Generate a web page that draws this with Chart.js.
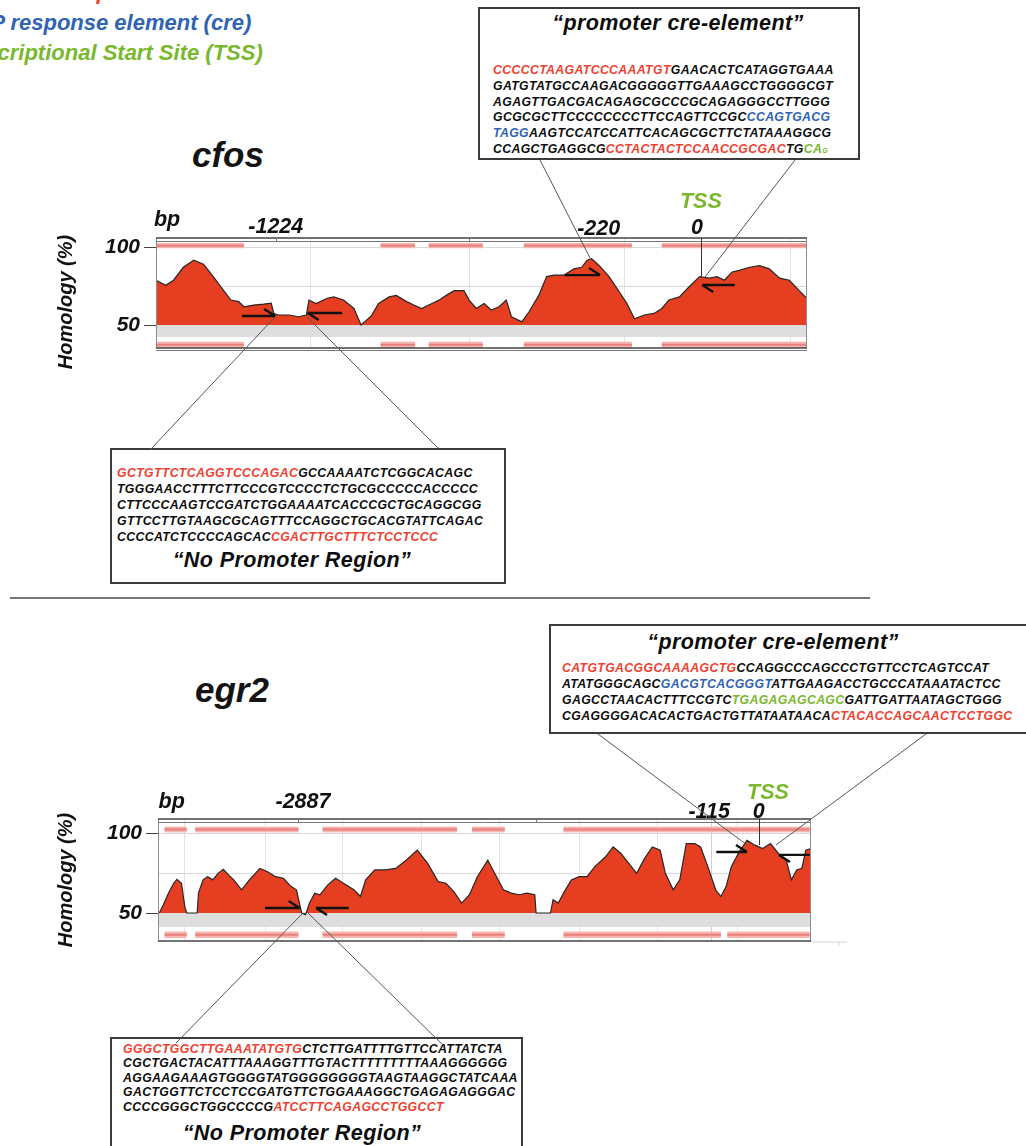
<!DOCTYPE html>
<html>
<head>
<meta charset="utf-8">
<script src="https://cdn.jsdelivr.net/npm/chart.js@4.4.1/dist/chart.umd.min.js"></script>
<style>
  body { margin: 0; background: #fff; }
  #page { position: relative; width: 1026px; height: 1146px; overflow: hidden;
          font-family: "Liberation Sans", Arial, sans-serif; font-weight: bold; font-style: italic; color: #141414; }
  .abs { position: absolute; white-space: nowrap; }
  .legend { font-size: 22px; line-height: 26px; }
  .gene { font-size: 35px; line-height: 40px; }
  .box { position: absolute; box-sizing: border-box; border: 2.5px solid #3b3b3b; background: #fff; }
  .seq { position: absolute; white-space: nowrap; font-size: 12.3px; letter-spacing: 0.35px; color: #0d0d0d; }
  .cap { position: absolute; width: 400px; font-size: 21.5px; line-height: 26px; letter-spacing: 0.4px;
         text-align: center; white-space: nowrap; color: #0d0d0d; }
  .r { color: #ee4130; } .b { color: #2f63b4; } .g { color: #79b72d; }
  .g small { font-size: 7px; }
  canvas { position: absolute; }
  svg { position: absolute; left: 0; top: 0; pointer-events: none; }
</style>
</head>
<body>
<div id="page">

  <!-- legend (cut by the page edge) -->
  <div class="abs legend r" style="left:-11px; top:-21px">Primer sequences</div>
  <div class="abs legend b" style="left:-56px; top:10px">cAMP response element (cre)</div>
  <div class="abs legend g" style="left:-62px; top:40px">Transcriptional Start Site (TSS)</div>

  <div class="abs gene" style="left:192px; top:135px">cfos</div>
  <div class="abs gene" style="left:195px; top:670px">egr2</div>

  <!-- cfos promoter box -->
  <div class="box" style="left:478px; top:7px; width:382px; height:153px"></div>
  <div class="cap" style="left:478px; top:10px">“promoter cre-element”</div>
  <div class="seq" style="left:493px; top:63px; line-height:15.8px">
<span class="r">CCCCCTAAGATCCCAAATGT</span>GAACACTCATAGGTGAAA<br>GATGTATGCCAAGACGGGGGTTGAAAGCCTGGGGCGT<br>AGAGTTGACGACAGAGCGCCCGCAGAGGGCCTTGGG<br>GCGCGCTTCCCCCCCCTTCCAGTTCCGC<span class="b">CCAGTGACG</span><br><span class="b">TAGG</span>AAGTCCATCCATTCACAGCGCTTCTATAAAGGCG<br>CCAGCTGAGGCG<span class="r">CCTACTACTCCAACCGCGAC</span>TG<span class="g">CA<small>G</small></span>
  </div>

  <!-- cfos no promoter box -->
  <div class="box" style="left:110px; top:448px; width:396px; height:136px"></div>
  <div class="seq" style="left:117px; top:465px; line-height:16px">
<span class="r">GCTGTTCTCAGGTCCCAGAC</span>GCCAAAATCTCGGCACAGC<br>TGGGAACCTTTCTTCCCGTCCCCTCTGCGCCCCCACCCCC<br>CTTCCCAAGTCCGATCTGGAAAATCACCCGCTGCAGGCGG<br>GTTCCTTGTAAGCGCAGTTTCCAGGCTGCACGTATTCAGAC<br>CCCCATCTCCCCAGCAC<span class="r">CGACTTGCTTTCTCCTCCC</span>
  </div>
  <div class="cap" style="left:92px; top:547px">“No Promoter Region”</div>

  <div class="abs" style="left:10px; top:597px; width:860px; height:2px; background:#777"></div>

  <!-- egr2 promoter box -->
  <div class="box" style="left:549px; top:624px; width:490px; height:110px"></div>
  <div class="cap" style="left:573px; top:629px">“promoter cre-element”</div>
  <div class="seq" style="left:562px; top:660px; line-height:16px">
<span class="r">CATGTGACGGCAAAAGCTG</span>CCAGGCCCAGCCCTGTTCCTCAGTCCAT<br>ATATGGGCAGC<span class="b">GACGTCACGGGT</span>ATTGAAGACCTGCCCATAAATACTCC<br>GAGCCTAACACTTTCCGTC<span class="g">TGAGAGAGCAGC</span>GATTGATTAATAGCTGGG<br>CGAGGGGACACACTGACTGTTATAATAACA<span class="r">CTACACCAGCAACTCCTGGC</span>
  </div>

  <!-- egr2 no promoter box -->
  <div class="box" style="left:110px; top:1037px; width:413px; height:112px"></div>
  <div class="seq" style="left:123px; top:1042px; line-height:14.4px">
<span class="r">GGGCTGGCTTGAAATATGTG</span>CTCTTGATTTTGTTCCATTATCTA<br>CGCTGACTACATTTAAAGGTTTGTACTTTTTTTTTAAAGGGGGG<br>AGGAAGAAAGTGGGGTATGGGGGGGGTAAGTAAGGCTATCAAA<br>GACTGGTTCTCCTCCGATGTTCTGGAAAGGCTGAGAGAGGGAC<br>CCCCGGGCTGGCCCCG<span class="r">ATCCTTCAGAGCCTGGCCT</span>
  </div>
  <div class="cap" style="left:102px; top:1120px">“No Promoter Region”</div>

  <canvas id="cfosChart" width="800" height="190" style="left:40px; top:180px"></canvas>
  <canvas id="egr2Chart" width="820" height="190" style="left:40px; top:770px"></canvas>

  <svg width="1026" height="1146">
    <g stroke="#555" stroke-width="1">
      <line x1="540" y1="160" x2="590" y2="258"/>
      <line x1="795" y1="160" x2="705" y2="277"/>
      <line x1="150" y1="450" x2="275" y2="317"/>
      <line x1="438" y1="448" x2="307" y2="317"/>
      <line x1="598" y1="734" x2="747" y2="845"/>
      <line x1="926" y1="734" x2="776" y2="845"/>
      <line x1="176" y1="1043" x2="303" y2="913"/>
      <line x1="443" y1="1045" x2="308" y2="913"/>
    </g>
  </svg>
</div>

<script>
/* ── Data: relative window position (0–100) and homology (%) ── */
const cfosPos = [0, 1.5, 2.7, 4.2, 5.8, 7.3, 8.8, 10.4, 11.5, 12.7,
  13.5, 15, 16.5, 17.7, 18.1, 18.8, 20.4, 21.9, 23.1, 23.5,
  24.6, 26.2, 27.3, 28.8, 30.4, 31.5, 32.3, 33.1, 34.2, 35.8,
  36.9, 38.5, 39.6, 40.8, 41.9, 43.5, 44.6, 45.8, 47.3, 48.1,
  49.2, 50.4, 51.5, 52.7, 53.8, 54.6, 56.2, 57.3, 58.8, 60,
  61.2, 62.7, 64.2, 65.4, 66.2, 66.9, 68.1, 69.6, 71.2, 72.3,
  73.5, 75, 76.5, 77.7, 78.8, 80.4, 81.9, 83.5, 85, 86.2,
  87.3, 88.5, 89.6, 91.2, 92.7, 94.2, 95.8, 97.3, 98.8, 100];
const cfosHomology = [78.7, 75.5, 78.7, 87, 91.5, 89, 81, 72, 66, 65,
  61.7, 62.8, 63.4, 64, 57.4, 56.4, 56.4, 55.3, 56.4, 66,
  63.8, 67, 68, 66, 60.6, 50, 53, 56, 63.8, 68,
  69, 65, 62.8, 60.6, 62.8, 66, 69, 72, 72, 66,
  60.6, 63.8, 59.6, 61.7, 66, 55.3, 52, 58.5, 69, 81,
  82, 82, 86, 87, 91.5, 92.5, 88, 81, 71, 64,
  54, 56.4, 57.4, 60.6, 66, 68, 74.5, 81, 80, 81,
  78.7, 84, 85, 87, 88, 86, 80, 78.7, 72, 67];

const egr2Pos = [0.2, 0.8, 1.6, 2.4, 2.9, 3.6, 4.1, 4.4, 6, 6.2,
  6.9, 7.6, 8.4, 9.2, 10, 10.8, 11.6, 12.8, 14, 15.6,
  16.8, 18, 19.2, 20.4, 21.2, 22, 22.6, 23.2, 24, 24.8,
  26, 27.2, 28.4, 30, 31, 31.8, 33.2, 34.8, 36.4, 38,
  39.7, 41.3, 42.9, 44.1, 45.3, 46.5, 47.7, 48.9, 50.5, 51.7,
  52.9, 54.1, 55.3, 56.5, 57.7, 57.9, 60.1, 60.5, 61.3, 62.1,
  63.3, 64.5, 65.7, 66.9, 68.5, 69.7, 70.9, 72.1, 73.3, 74.5,
  75.7, 76.9, 77.7, 78.9, 79.9, 80.9, 82.2, 83.1, 84.2, 85.4,
  86.2, 87, 87.8, 89, 90.2, 91.4, 92.6, 93.8, 95, 96.2,
  97, 97.8, 98.6, 99.2, 100];
const egr2Homology = [50, 55, 62.4, 68.6, 71, 68.6, 54, 50, 50, 62.4,
  70.7, 72.7, 70.7, 74.8, 77.3, 73.8, 70.7, 64.5, 70.7, 77.9,
  75.8, 72.7, 71.7, 66.5, 64.5, 50, 49, 56.2, 62.4, 61.4,
  67.6, 71.7, 68.6, 64.5, 60.3, 70.7, 76.9, 76.9, 77.9, 83,
  89.3, 81, 69.6, 68.6, 63.4, 56.2, 61.4, 72.7, 83, 73.8,
  64.5, 62.4, 61.4, 62.4, 61.4, 50, 50, 58.3, 56.2, 62.4,
  70.7, 72.7, 72.7, 79, 85, 91.3, 87.2, 81, 74.8, 84,
  91.3, 89.3, 74.8, 64.5, 70.7, 93.4, 93.4, 91.3, 79, 64.5,
  60.3, 66.5, 79, 88.2, 95.5, 92.4, 90.3, 93.4, 87.2, 83,
  70.7, 76.9, 77.9, 89.3, 90.3];

/* conserved-region bars (start, end in window position) */
const cfosConserved = [[0, 13.5], [34.5, 39.8], [41.9, 50.2], [56.5, 73.1], [77.7, 100]];
const egr2ConservedTop = [[1, 4.4], [5.7, 21.5], [25.2, 45.8], [48.1, 53.1], [62.1, 99.8]];
const egr2ConservedBottom = [[1, 4.4], [5.7, 21.5], [25.2, 45.8], [48.1, 53.1], [62.1, 86.2], [87.2, 99.8]];

/* position labels above each plot */
const cfosMarkText = ['bp', '-1224', '-220', '0'];
const cfosMarkPos  = [1.7, 18.4, 68, 83.1];
const egr2MarkText = ['bp', '-2887', '-115', '0'];
const egr2MarkPos  = [2.1, 22.2, 84.4, 92];

/* primers: from, to, homology level, direction */
const cfosPrimers = [[13.2, 18.3, 55.8, 1], [23.3, 28.6, 57.7, -1], [62.8, 68.2, 82, 1], [83.9, 88.9, 75.6, -1]];
const egr2Primers = [[16.4, 21.7, 53.1, 1], [24.2, 29.2, 53.1, -1], [85.5, 90.2, 88.1, 1], [95.1, 99.8, 86.3, -1]];

const cfosGrid = [23.7, 48.1, 72, 97.4];
const egr2Grid = [4, 16.4, 28.3, 40.3, 52.3, 64.5, 76.5, 84.8, 88.7];

const FONT = '"Liberation Sans", Arial, sans-serif';
const RED_FILL = '#e63e21';

/* ── Decorations: bands, frame, primers, labels ── */
function decor(cfg) {
    return {
        id: 'decor',
        beforeDatasetsDraw(chart) {
            const { ctx, chartArea: a, scales: { x, y } } = chart;
            ctx.save();
            const y50 = y.getPixelForValue(50);
            ctx.fillStyle = '#dedede';
            ctx.fillRect(a.left, y50, a.width, y.getPixelForValue(cfg.grayLow) - y50);

            const band = (segs, hi, lo) => segs.forEach(([s, e]) => {
                const x0 = x.getPixelForValue(s), x1 = x.getPixelForValue(e);
                const y0 = y.getPixelForValue(hi), y1 = y.getPixelForValue(lo);
                ctx.fillStyle = '#f5b4b0';
                ctx.fillRect(x0, y0, x1 - x0, y1 - y0);
                ctx.fillStyle = '#e8807b';
                ctx.fillRect(x0, (y0 + y1) / 2 - 1, x1 - x0, 2);
            });
            band(cfg.bandsTop, cfg.topRow[0], cfg.topRow[1]);
            band(cfg.bandsBottom, cfg.bottomRow[0], cfg.bottomRow[1]);
            ctx.restore();
        },
        afterDatasetsDraw(chart) {
            const { ctx, chartArea: a, scales: { x, y } } = chart;
            ctx.save();

            // frame
            ctx.strokeStyle = '#8d8d8d'; ctx.lineWidth = 1;
            ctx.beginPath();
            ctx.moveTo(a.left + 0.5, a.top); ctx.lineTo(a.left + 0.5, a.bottom);
            ctx.moveTo(a.right - 0.5, a.top); ctx.lineTo(a.right - 0.5, a.bottom);
            ctx.stroke();
            ctx.strokeStyle = '#444'; ctx.lineWidth = 1.5;
            ctx.beginPath();
            ctx.moveTo(a.left, a.top); ctx.lineTo(a.right, a.top);
            ctx.moveTo(a.left, a.bottom); ctx.lineTo(a.right, a.bottom);
            ctx.stroke();
            ctx.strokeStyle = '#777'; ctx.lineWidth = 1;
            ctx.beginPath();
            ctx.moveTo(a.left, a.top + 3.5); ctx.lineTo(a.right, a.top + 3.5);
            if (cfg.bottomDouble) { ctx.moveTo(a.left, a.bottom + 2.5); ctx.lineTo(a.right, a.bottom + 2.5); }
            cfg.topTicks.forEach(p => {
                const px = Math.round(x.getPixelForValue(p)) + 0.5;
                ctx.moveTo(px, a.top); ctx.lineTo(px, a.top + 4);
            });
            ctx.stroke();

            if (cfg.tail) {
                ctx.strokeStyle = '#d6cfe0';
                ctx.beginPath();
                ctx.moveTo(a.right, a.bottom + 1); ctx.lineTo(a.right + 36, a.bottom + 1);
                ctx.moveTo(a.right + 28, a.bottom + 1); ctx.lineTo(a.right + 28, a.bottom + 5);
                ctx.stroke();
            }

            // TSS marker
            const tx = Math.round(x.getPixelForValue(cfg.tss)) + 0.5;
            ctx.strokeStyle = '#333'; ctx.lineWidth = 1;
            ctx.beginPath();
            ctx.moveTo(tx, a.top); ctx.lineTo(tx, y.getPixelForValue(cfg.tssEnd));
            ctx.stroke();

            // primer harpoons
            ctx.strokeStyle = '#111'; ctx.lineWidth = 2.4;
            cfg.primers.forEach(([p0, p1, h, dir]) => {
                const x0 = x.getPixelForValue(p0), x1 = x.getPixelForValue(p1), py = y.getPixelForValue(h);
                ctx.beginPath();
                ctx.moveTo(x0, py); ctx.lineTo(x1, py);
                if (dir > 0) { ctx.moveTo(x1, py); ctx.lineTo(x1 - 11, py - 7); }
                else { ctx.moveTo(x0, py); ctx.lineTo(x0 + 11, py + 7); }
                ctx.stroke();
            });

            // labels
            ctx.font = 'italic bold 21.5px ' + FONT;
            ctx.textAlign = 'center'; ctx.textBaseline = 'middle';
            ctx.fillStyle = '#111';
            cfg.markText.forEach((t, i) => {
                ctx.fillText(t, x.getPixelForValue(cfg.markPos[i]), a.top + cfg.markLift[i]);
            });
            ctx.fillStyle = '#79b72d';
            ctx.fillText('TSS', x.getPixelForValue(cfg.tssLabel), a.top + cfg.tssLift);

            // axis title, nudged to sit where the figure has it
            ctx.fillStyle = '#111';
            ctx.font = 'italic bold 20px ' + FONT;
            ctx.translate(a.left - cfg.axisWidth + 26, (a.top + a.bottom) / 2 + cfg.titleShift);
            ctx.rotate(-Math.PI / 2);
            ctx.fillText('Homology (%)', 0, 0);
            ctx.restore();
        }
    };
}

function homologyChart(id, cfg) {
    const tickFont = { family: FONT, size: 21, style: 'italic', weight: 'bold' };
    return new Chart(document.getElementById(id), {
        type: 'line',
        data: {
            datasets: [{
                data: cfg.pos.map((p, i) => ({ x: p, y: cfg.homology[i] })),
                fill: { value: 50 },
                backgroundColor: RED_FILL,
                borderColor: '#262626',
                borderWidth: 1.2,
                pointRadius: 0,
                tension: 0
            }]
        },
        options: {
            responsive: false,
            animation: false,
            devicePixelRatio: 1,
            layout: { padding: cfg.pad },
            plugins: { legend: { display: false }, tooltip: { enabled: false } },
            scales: {
                x: {
                    type: 'linear', min: 0, max: 100,
                    afterBuildTicks: s => { s.ticks = cfg.grid.map(v => ({ value: v })); },
                    afterFit: s => { s.height = 0; },
                    ticks: { display: false },
                    grid: { color: c => c.tick && c.tick.value === cfg.accentGrid ? '#e7c2e7' : '#e3e3e3', drawTicks: false },
                    border: { display: false }
                },
                y: {
                    min: cfg.yMin, max: cfg.yMax,
                    afterBuildTicks: s => { s.ticks = [50, 75, 100].map(v => ({ value: v })); },
                    afterFit: s => { s.width = cfg.axisWidth; },
                    ticks: { callback: v => v === 75 ? '' : v, color: '#111', font: tickFont, padding: 4 },
                    grid: {
                        color: c => c.tick && c.tick.value === 50 ? 'rgba(0,0,0,0)' : '#d8d8d8',
                        tickColor: c => c.tick && c.tick.value === 75 ? 'rgba(0,0,0,0)' : '#444',
                        tickLength: 12
                    },
                    border: { display: false },
                    title: { display: false }
                }
            }
        },
        plugins: [decor(cfg)]
    });
}

homologyChart('cfosChart', {
    pos: cfosPos, homology: cfosHomology,
    yMin: 35.26, yMax: 105.77, axisWidth: 116,
    pad: { top: 58, right: 33, bottom: 22, left: 0 },
    grid: cfosGrid, accentGrid: null,
    grayLow: 42.3,
    bandsTop: cfosConserved, bandsBottom: cfosConserved,
    topRow: [102.6, 99.2], bottomRow: [39.3, 35.3],
    topTicks: [18.4, 48.1], bottomDouble: true, tail: false,
    tss: 83.7, tssEnd: 81, tssLabel: 83.7, tssLift: -36,
    primers: cfosPrimers, titleShift: 9,
    markText: cfosMarkText, markPos: cfosMarkPos, markLift: [-18, -11, -9, -10]
});

homologyChart('egr2Chart', {
    pos: egr2Pos, homology: egr2Homology,
    yMin: 32.5, yMax: 108.75, axisWidth: 118,
    pad: { top: 49, right: 49, bottom: 19, left: 0 },
    grid: egr2Grid, accentGrid: 84.8,
    grayLow: 41.25,
    bandsTop: egr2ConservedTop, bandsBottom: egr2ConservedBottom,
    topRow: [104, 100.4], bottomRow: [38.4, 34.4],
    topTicks: [21.5, 57.9], bottomDouble: false, tail: true,
    tss: 92, tssEnd: 92.5, tssLabel: 93.4, tssLift: -26,
    primers: egr2Primers, titleShift: 0,
    markText: egr2MarkText, markPos: egr2MarkPos, markLift: [-17, -17, -7, -7]
});
</script>
</body>
</html>
